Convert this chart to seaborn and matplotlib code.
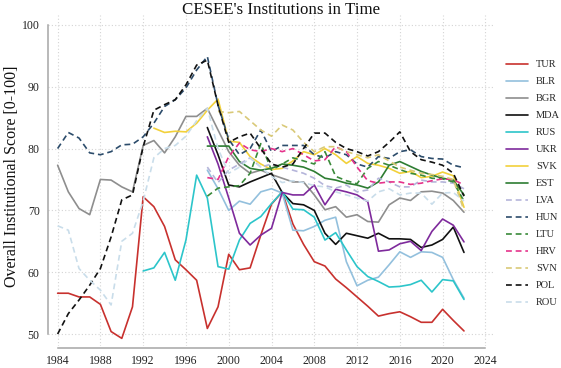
import numpy as np
import pandas as pd
import matplotlib
matplotlib.use("Agg")
import matplotlib.pyplot as plt
import seaborn as sns
from matplotlib.lines import Line2D

# ---------------- data ----------------
countries = ["TUR", "BLR", "BGR", "MDA", "RUS", "UKR", "SVK", "EST",
             "LVA", "HUN", "LTU", "HRV", "SVN", "POL", "ROU"]
start_years = [1984, 1998, 1984, 1998, 1992, 1998, 1993, 1998,
               1998, 1984, 1998, 1998, 1999, 1984, 1984]

TUR = [56.6, 56.6, 56.0, 56.0, 54.8, 50.4, 49.3, 54.4, 72.2, 70.6, 67.4, 62.0, 60.4, 58.7, 50.9,
       54.4, 62.9, 60.4, 60.7, 66.0, 71.0, 73.0, 67.8, 64.5, 61.7, 61.0, 58.9, 57.5, 56.0, 54.5,
       52.9, 53.3, 53.6, 52.8, 51.9, 51.9, 54.0, 52.2, 50.5]
BLR = [76.5, 73.5, 70.0, 71.5, 71.0, 73.0, 73.5, 72.8, 66.8, 66.7, 67.4, 68.4, 68.9, 61.7, 57.8,
       58.7, 59.2, 61.2, 63.3, 62.4, 63.3, 63.2, 62.4, 58.8, 55.8]
BGR = [77.3, 73.0, 70.3, 69.3, 75.0, 74.9, 73.8, 73.0, 80.5, 81.3, 79.3, 81.9, 85.2, 85.2, 86.5,
       83.0, 79.5, 77.3, 76.0, 76.5, 75.8, 75.2, 74.6, 74.6, 72.5, 70.1, 70.6, 68.9, 69.3, 68.2,
       68.1, 70.9, 72.0, 71.6, 73.0, 73.1, 72.8, 71.6, 69.7]
MDA = [83.4, 79.0, 74.1, 73.8, 74.6, 75.3, 76.0, 72.9, 71.1, 70.9, 70.0, 66.3, 64.5, 66.3, 65.9,
       65.5, 66.3, 65.4, 65.4, 65.3, 64.0, 64.4, 65.3, 67.3, 63.2]
RUS = [60.2, 60.7, 63.2, 58.7, 65.2, 75.7, 72.0, 60.9, 60.5, 65.2, 67.9, 69.0, 71.1, 73.0, 70.2,
       70.1, 68.9, 65.2, 66.4, 63.6, 60.9, 59.3, 58.5, 57.6, 57.7, 58.0, 58.7, 56.8, 58.8, 58.6, 55.6]
UKR = [81.9, 77.5, 72.0, 66.3, 64.4, 66.0, 67.1, 72.9, 72.5, 72.5, 74.1, 70.9, 73.4, 73.0, 72.5,
       71.4, 63.4, 63.6, 64.6, 65.0, 63.5, 66.6, 68.6, 67.6, 64.9]
SVK = [83.3, 82.6, 82.8, 82.7, 84.1, 86.2, 88.0, 81.2, 81.0, 78.7, 77.5, 76.6, 76.8, 78.0, 79.5,
       79.0, 80.0, 79.0, 77.6, 78.7, 77.6, 77.3, 76.8, 76.0, 76.3, 75.3, 75.5, 76.2, 75.6, 70.5]
EST = [80.4, 80.4, 80.4, 77.9, 76.8, 76.5, 76.8, 77.5, 77.3, 77.0, 76.3, 75.2, 74.9, 74.4, 74.1,
       73.6, 74.6, 77.3, 77.9, 77.1, 76.3, 75.7, 75.2, 74.9, 72.5]
LVA = [77.0, 74.5, 76.5, 77.5, 78.5, 77.0, 77.5, 77.0, 76.5, 76.0, 75.2, 74.0, 73.6, 74.1, 73.0,
       73.3, 75.2, 74.6, 73.8, 73.8, 74.9, 74.6, 74.6, 74.4, 73.5]
HUN = [80.0, 82.6, 81.7, 79.3, 79.0, 79.5, 80.6, 80.7, 81.9, 84.1, 86.8, 87.9, 89.8, 92.7, 94.9,
       87.0, 81.5, 79.0, 80.0, 83.0, 79.5, 80.5, 80.5, 80.5, 79.0, 78.5, 79.5, 79.0, 77.5, 77.0,
       78.7, 78.4, 79.5, 79.8, 78.7, 78.4, 78.3, 77.3, 76.9]
LTU = [72.3, 73.6, 73.8, 74.0, 76.0, 80.8, 76.5, 77.5, 78.5, 78.0, 77.5, 79.5, 75.5, 74.8, 74.3,
       76.8, 77.9, 77.3, 76.6, 76.0, 75.7, 75.2, 75.1, 74.6, 71.5]
HRV = [75.3, 75.0, 78.7, 80.9, 79.8, 79.5, 80.0, 79.5, 80.0, 79.0, 78.0, 78.2, 80.3, 79.5, 77.0,
       74.8, 74.4, 74.6, 74.6, 74.2, 74.4, 74.8, 75.1, 75.0, 74.1]
SVN = [86.0, 85.8, 86.0, 84.5, 83.0, 82.0, 83.8, 83.0, 81.0, 79.5, 80.3, 80.3, 79.5, 79.0, 78.5,
       79.0, 78.0, 77.0, 76.5, 76.0, 75.8, 75.5, 75.0, 70.0]
POL = [50.0, 53.3, 55.5, 57.9, 60.6, 65.7, 71.7, 72.5, 80.3, 86.2, 87.1, 87.9, 90.3, 93.5, 94.3,
       87.0, 81.0, 81.9, 82.5, 80.0, 77.5, 77.0, 77.5, 80.0, 82.5, 82.5, 81.0, 80.0, 79.5, 78.8,
       79.5, 81.0, 82.7, 79.5, 78.2, 77.8, 77.3, 76.0, 72.3]
ROU = [67.5, 66.8, 60.6, 58.7, 57.1, 54.7, 65.0, 66.3, 71.5, 78.5, 80.0, 80.5, 82.0, 84.5, 86.5,
       80.0, 76.0, 77.0, 78.5, 77.0, 75.5, 74.5, 74.8, 74.5, 74.0, 73.8, 73.0, 72.5, 72.0, 71.5,
       73.0, 73.5, 72.5, 72.8, 72.8, 71.0, 72.8, 72.9, 71.5]

series = [TUR, BLR, BGR, MDA, RUS, UKR, SVK, EST, LVA, HUN, LTU, HRV, SVN, POL, ROU]

x_ticks = [1984, 1988, 1992, 1996, 2000, 2004, 2008, 2012, 2016, 2020, 2024]
y_ticks = [50, 60, 70, 80, 90, 100]
title = "CESEE's Institutions in Time"
y_label = "Overall Institutional Score [0-100]"

# ---------------- style ----------------
colors = ["#C8312E", "#93C0DD", "#8E8E8E", "#111111", "#2CC5CA", "#7E2A9C", "#F2D13B", "#2E7D32",
          "#B5B5DA", "#2C4C6B", "#3A8A3A", "#E5338B", "#D9C978", "#111111", "#C9DDEA"]
is_dashed = [False] * 8 + [True] * 7
dash_pat = (3.5, 2.3)

rows = []
for c, s0, vals in zip(countries, start_years, series):
    for i, v in enumerate(vals):
        rows.append((c, s0 + i, v))
df = pd.DataFrame(rows, columns=["country", "year", "score"])

sns.set_theme(style="white")
plt.rcParams["font.family"] = ["Liberation Serif", "DejaVu Serif"]

W, H = 561, 368
fig = plt.figure(figsize=(W / 100, H / 100), dpi=100)
ax_l, ax_r, ax_t, ax_b = 48, 495, 15, 346.4
ax = fig.add_axes([ax_l / W, 1 - ax_b / H, (ax_r - ax_l) / W, (ax_b - ax_t) / H])

palette = dict(zip(countries, colors))
dashes = {c: (dash_pat if d else "") for c, d in zip(countries, is_dashed)}

sns.lineplot(data=df, x="year", y="score", hue="country", style="country",
             hue_order=countries, style_order=countries, palette=palette,
             dashes=dashes, estimator=None, legend=False, linewidth=1.2, ax=ax)

ax.set_xlim(1983.1, 2024.9)
ax.set_ylim(48.0, 101.6)
ax.set_xticks(x_ticks)
ax.set_yticks(y_ticks)
ax.set_xticklabels([str(t) for t in x_ticks])
ax.set_yticklabels([str(t) for t in y_ticks])
ax.set_xlabel("")
ax.set_ylabel("")

ax.grid(True, color="#d4d4d4", linestyle=(0, (1, 2)), linewidth=0.8)
ax.set_axisbelow(True)

for sp in ["top", "right"]:
    ax.spines[sp].set_visible(False)
for sp in ["left", "bottom"]:
    ax.spines[sp].set_color("#a6a6a6")
    ax.spines[sp].set_linewidth(1.1)
ax.spines["left"].set_bounds(50, 100)
ax.spines["bottom"].set_bounds(1984, 2024)
ax.spines["bottom"].set_position(("outward", 1))

ax.tick_params(axis="both", which="major", direction="out", length=3.5, width=1.0,
               color="#a6a6a6", labelsize=8.5, labelcolor="#222222", pad=2.5)
ax.tick_params(axis="x", pad=1.5)

fig.text(281 / W, 1 - 13.5 / H, title, ha="center", va="baseline", fontsize=12.2, color="#111111")
fig.text(12 / W, 1 - 176 / H, y_label, ha="center", va="center", rotation=90,
         fontsize=11.5, color="#111111")

handles = [Line2D([0], [0], color=col, lw=1.2,
                  linestyle=((0, dash_pat) if d else "-"))
           for col, d in zip(colors, is_dashed)]
fig.legend(handles, countries, loc="upper left", bbox_to_anchor=(502 / W, 1 - 56 / H),
           frameon=False, fontsize=7.5, handlelength=2.1, handletextpad=0.75,
           labelspacing=0.74, borderaxespad=0)

fig.savefig("out.png", dpi=100)
